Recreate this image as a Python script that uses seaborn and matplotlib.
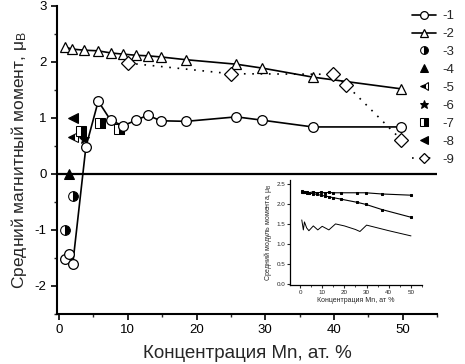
import matplotlib
matplotlib.use("Agg")
import matplotlib.pyplot as plt
import seaborn as sns
from matplotlib.ticker import MultipleLocator

sns.set_theme(style="ticks")
plt.rcParams['font.family'] = ['Liberation Sans', 'DejaVu Sans']
plt.rcParams['mathtext.fontset'] = 'custom'
plt.rcParams['mathtext.rm'] = 'Liberation Sans'
plt.rcParams['mathtext.it'] = 'Liberation Sans:italic'

# series 1 (open circles, solid line)
x1 = [0.8, 1.5, 2.0, 3.9, 5.7, 7.5, 9.3, 11.2, 12.9, 14.8, 18.5, 25.8, 29.6, 36.9, 49.8]
y1 = [-1.52, -1.42, -1.60, 0.48, 1.30, 0.96, 0.86, 0.96, 1.05, 0.95, 0.94, 1.02, 0.96, 0.84, 0.84]
# series 2 (open triangles, solid line)
x2 = [0.8, 1.9, 3.7, 5.6, 7.6, 9.3, 11.2, 12.9, 14.8, 18.5, 25.8, 29.6, 36.9, 49.8]
y2 = [2.27, 2.23, 2.21, 2.20, 2.16, 2.14, 2.12, 2.11, 2.09, 2.04, 1.96, 1.89, 1.73, 1.52]
# single-point series 3..8
x3 = [0.9, 2.0]
y3 = [-1.00, -0.39]
x4 = [1.5]
y4 = [0.0]
x5 = [2.0]
y5 = [0.66]
x6 = [3.7]
y6 = [0.62]
x7 = [3.2, 6.0, 8.7]
y7 = [0.77, 0.91, 0.80]
x8 = [2.0]
y8 = [1.00]
# series 9 (open diamonds, dotted)
x9 = [10.0, 25.0, 39.9, 41.8, 49.8]
y9 = [1.98, 1.79, 1.78, 1.59, 0.61]

# inset: average moment modulus
xi = [0.8, 1.5, 2.0, 3.0, 4.0, 5.7, 7.5, 9.3, 11.2, 12.9, 14.8, 18.5, 25.8, 29.6, 36.9, 49.8]
yi_top = [2.30, 2.31, 2.29, 2.30, 2.28, 2.30, 2.28, 2.29, 2.28, 2.29, 2.28, 2.28, 2.28, 2.28, 2.25, 2.22]
yi_mid = [2.32, 2.30, 2.29, 2.28, 2.27, 2.26, 2.24, 2.22, 2.20, 2.18, 2.16, 2.12, 2.04, 1.99, 1.86, 1.67]
xi_low = [0.8, 1.5, 2.0, 3.0, 4.0, 6.0, 8.0, 10.0, 13.0, 16.0, 20.0, 25.0, 27.0, 30.0, 40.0, 50.0]
yi_low = [1.60, 1.35, 1.55, 1.40, 1.33, 1.45, 1.35, 1.44, 1.35, 1.50, 1.45, 1.36, 1.31, 1.47, 1.33, 1.20]

fig = plt.figure(figsize=(4.65, 3.64), dpi=100)
ax = fig.add_axes([0.1226, 0.1374, 0.8172, 0.8462])

ax.axhline(0, color="black", lw=1.6, zorder=1)

sns.lineplot(x=x1, y=y1, ax=ax, color="black", lw=1.2, marker="o", ms=7,
             mfc="white", mec="black", mew=0.9, label="-1", zorder=3)
sns.lineplot(x=x2, y=y2, ax=ax, color="black", lw=1.2, marker="^", ms=7.5,
             mfc="white", mec="black", mew=0.9, label="-2", zorder=3)
sns.lineplot(x=x3, y=y3, ax=ax, color="black", linestyle="none", marker="o", ms=7,
             fillstyle="right", mfc="black", mfcalt="white", mec="black", label="-3")
sns.lineplot(x=x4, y=y4, ax=ax, color="black", linestyle="none", marker="^", ms=7,
             mfc="black", mec="black", label="-4")
sns.lineplot(x=x5, y=y5, ax=ax, color="black", linestyle="none", marker="<", ms=7,
             fillstyle="left", mfc="black", mfcalt="white", mec="black", label="-5")
sns.lineplot(x=x6, y=y6, ax=ax, color="black", linestyle="none", marker="*", ms=8,
             mfc="black", mec="black", label="-6")
sns.lineplot(x=x7, y=y7, ax=ax, color="black", linestyle="none", marker="s", ms=6.5,
             fillstyle="right", mfc="black", mfcalt="white", mec="black", label="-7")
sns.lineplot(x=x8, y=y8, ax=ax, color="black", linestyle="none", marker="<", ms=7,
             mfc="black", mec="black", label="-8")
sns.lineplot(x=x9, y=y9, ax=ax, color="black", lw=1.2, linestyle=(0, (1, 4)), marker="D", ms=7,
             mfc="white", mec="black", mew=0.9, label="-9", zorder=3)

ax.set_xlim(-0.3, 55)
ax.set_ylim(-2.5, 3)
ax.xaxis.set_major_locator(MultipleLocator(10))
ax.xaxis.set_minor_locator(MultipleLocator(5))
ax.yaxis.set_major_locator(MultipleLocator(1))
ax.yaxis.set_minor_locator(MultipleLocator(0.5))
ax.tick_params(which="major", direction="out", length=4, width=1.2, labelsize=9.5, colors="black")
ax.tick_params(which="minor", direction="out", length=2.5, width=1)
ax.set_yticks([-2, -1, 0, 1, 2, 3])
ax.set_yticklabels(["-2", "-1", "0", "1", "2", "3"])
sns.despine(ax=ax)
for s in ["left", "bottom"]:
    ax.spines[s].set_linewidth(1.5)
    ax.spines[s].set_color("black")

ax.set_xlabel("Концентрация Mn, ат. %", fontsize=13.5, labelpad=6)
ax.set_ylabel("Средний магнитный момент, μ$_{\\rm B}$", fontsize=12.5, labelpad=4)

leg = ax.legend(loc="upper left", bbox_to_anchor=(412 / 465, 1 - 10 / 364),
                bbox_transform=fig.transFigure, frameon=False, fontsize=9.5,
                markerscale=0.8, handlelength=1.8, handletextpad=0.5,
                labelspacing=0.43, borderpad=0, borderaxespad=0)

# inset
axi = fig.add_axes([0.6237, 0.217, 0.284, 0.2885])
sns.lineplot(x=xi, y=yi_top, ax=axi, color="black", lw=0.8, marker="s", ms=1.6, mec="black")
sns.lineplot(x=xi, y=yi_mid, ax=axi, color="black", lw=0.8, marker="s", ms=1.6, mec="black")
sns.lineplot(x=xi_low, y=yi_low, ax=axi, color="black", lw=0.7)
axi.set_xlim(-4.5, 55)
axi.set_ylim(-0.03, 2.6)
axi.xaxis.set_major_locator(MultipleLocator(10))
axi.xaxis.set_minor_locator(MultipleLocator(5))
axi.yaxis.set_major_locator(MultipleLocator(0.5))
axi.set_yticks([0, 0.5, 1.0, 1.5, 2.0, 2.5])
axi.set_yticklabels(["0.0", "0.5", "1.0", "1.5", "2.0", "2.5"])
axi.tick_params(which="major", direction="out", length=2, width=0.8, labelsize=4.5, pad=1.5)
axi.tick_params(which="minor", direction="out", length=1.2, width=0.6)
axi.patch.set_alpha(0)
sns.despine(ax=axi)
for s in ["left", "bottom"]:
    axi.spines[s].set_linewidth(0.9)
    axi.spines[s].set_color("black")
axi.set_xlabel("Концентрация Mn, ат %", fontsize=5, labelpad=1.5)
axi.set_ylabel("Средний модуль момента, μ$_{\\rm B}$", fontsize=5, labelpad=1.5)

fig.savefig("out.png", dpi=100)
